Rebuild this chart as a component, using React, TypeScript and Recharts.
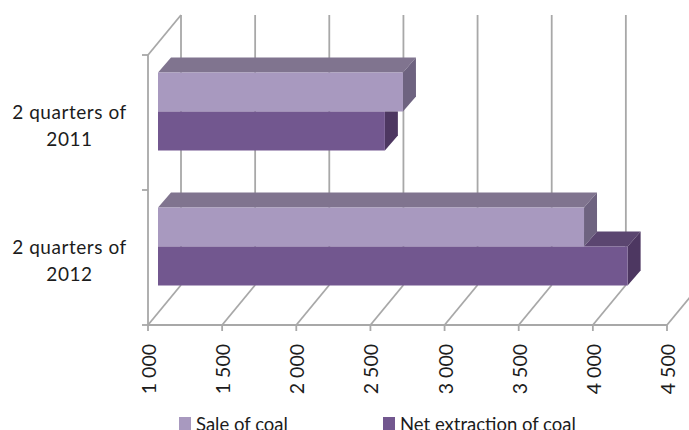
import React from "react";
import { BarChart, Bar, XAxis, YAxis, CartesianGrid, Legend } from "recharts";

const categories = ["2 quarters of 2011", "2 quarters of 2012"];
const saleOfCoal = [2652, 3873];
const netExtraction = [2530, 4167];
const valueTicks = [1000, 1500, 2000, 2500, 3000, 3500, 4000, 4500];

const data = categories.map((name, i) => ({
  name,
  sale: saleOfCoal[i],
  net: netExtraction[i],
}));

const FONT = "Lato, Carlito, sans-serif";
const TEXT = "#1c1c1c";
const AXIS = "#a8a8a8";

// depth of the fake 3D box around the plot, and of each bar
const WALL_DX = 33;
const WALL_DY = 40;
const BAR_DX = 13;
const BAR_DY = 15;
// bars sit a little inside the floor, not on the front edge
const BAR_SHIFT_X = 10;
const BAR_SHIFT_Y = -11.5;

const SALE = { front: "#a899bf", top: "#80748f", side: "#6e6380" };
const NET = { front: "#72578f", top: "#5b4670", side: "#4d3761" };

const pts = (list: number[][]) => list.map((p) => p.join(",")).join(" ");

function SaleBar(props: any) {
  const x = props.x + BAR_SHIFT_X;
  const y = props.y + BAR_SHIFT_Y;
  const { width: w, height: h } = props;
  return (
    <g>
      <polygon
        fill={SALE.top}
        points={pts([[x, y], [x + w, y], [x + w + BAR_DX, y - BAR_DY], [x + BAR_DX, y - BAR_DY]])}
      />
      <polygon
        fill={SALE.side}
        points={pts([[x + w, y], [x + w + BAR_DX, y - BAR_DY], [x + w + BAR_DX, y + h - BAR_DY], [x + w, y + h]])}
      />
      <rect x={x} y={y} width={w} height={h} fill={SALE.front} />
    </g>
  );
}

// The net bar is painted after the sale bar but sits behind it,
// so its top and side are cut back to the part the sale bar leaves open.
function NetBar(props: any) {
  const x = props.x + BAR_SHIFT_X;
  const y = props.y + BAR_SHIFT_Y;
  const { width: w, height: h, payload } = props;
  const pxPerUnit = w / (payload.net - valueTicks[0]);
  const saleW = (payload.sale - valueTicks[0]) * pxPerUnit;
  const passesSale = w > saleW;
  return (
    <g>
      {passesSale && (
        <polygon
          fill={NET.top}
          points={pts([[x + saleW, y], [x + w, y], [x + w + BAR_DX, y - BAR_DY], [x + saleW + BAR_DX, y - BAR_DY]])}
        />
      )}
      <polygon
        fill={NET.side}
        points={
          passesSale
            ? pts([[x + w, y], [x + w + BAR_DX, y - BAR_DY], [x + w + BAR_DX, y + h - BAR_DY], [x + w, y + h]])
            : pts([[x + w, y], [x + w + BAR_DX, y], [x + w + BAR_DX, y + h - BAR_DY], [x + w, y + h]])
        }
      />
      <rect x={x} y={y} width={w} height={h} fill={NET.front} />
    </g>
  );
}

// One grid entry is the floor diagonal plus the upright on the back wall.
// The first one also carries the slanted top of the side wall and the
// category separators, which fall between the bands rather than on them.
function WallLine(props: any) {
  const { x1, y1, y2, index } = props;
  const mid = (y1 + y2) / 2;
  return (
    <g stroke={AXIS} strokeWidth={1.8} fill="none">
      <line x1={x1} y1={y2} x2={x1 + WALL_DX} y2={y2 - WALL_DY} />
      <line x1={x1 + WALL_DX} y1={y2 - WALL_DY} x2={x1 + WALL_DX} y2={y1 - WALL_DY} />
      {index === 0 && (
        <>
          <line x1={x1} y1={y1} x2={x1 + WALL_DX} y2={y1 - WALL_DY} />
          {[y1, mid, y2].map((y) => (
            <line key={y} x1={x1 - 6} y1={y} x2={x1} y2={y} />
          ))}
        </>
      )}
    </g>
  );
}

function CategoryTick(props: any) {
  const { y, payload } = props;
  const words = String(payload.value).split(" ");
  const year = words.pop();
  return (
    <text x={69.5} y={y} textAnchor="middle" fontFamily={FONT} fontSize={19} letterSpacing={0.55} fill={TEXT}>
      <tspan x={69.5} dy={-4}>{words.join(" ")}</tspan>
      <tspan x={69.5} dy={27}>{year}</tspan>
    </text>
  );
}

function ValueTick(props: any) {
  const { x, y, payload } = props;
  const label = String(payload.value).replace(/(\d)(\d{3})$/, "$1 $2");
  return (
    <text
      transform={`translate(${x + 8},${y + 11}) rotate(-90)`}
      textAnchor="end"
      fontFamily={FONT}
      fontSize={19.5}
      fill={TEXT}
    >
      {label}
    </text>
  );
}

function LegendRow({ payload }: any) {
  const lefts = [179, 383];
  return (
    <div style={{ position: "relative", height: 20, fontFamily: FONT, fontSize: 18.5, color: TEXT }}>
      {(payload || []).map((item: any, i: number) => (
        <div key={item.value} style={{ position: "absolute", left: lefts[i], top: 7, whiteSpace: "nowrap" }}>
          <span
            style={{
              position: "absolute",
              left: 0,
              top: 0,
              width: 12,
              height: 13,
              background: item.color,
            }}
          />
          <span style={{ position: "absolute", left: 17, top: -3, lineHeight: "20px" }}>{item.value}</span>
        </div>
      ))}
    </div>
  );
}

export default function App() {
  return (
    <div style={{ position: "absolute", left: 0, top: 0, width: 689, height: 430, overflow: "hidden", background: "#fff" }}>
      <BarChart
        width={689}
        height={430}
        data={data}
        layout="vertical"
        barSize={39}
        barGap={0}
        margin={{ top: 55, right: 22, bottom: 0, left: 0 }}
      >
        <CartesianGrid horizontal={false} vertical={WallLine as any} />
        <XAxis
          type="number"
          domain={[valueTicks[0], valueTicks[valueTicks.length - 1]]}
          ticks={valueTicks}
          interval={0}
          height={85}
          tick={ValueTick as any}
          tickSize={6}
          stroke={AXIS}
          strokeWidth={1.8}
        />
        <YAxis
          type="category"
          dataKey="name"
          width={148}
          tick={CategoryTick as any}
          tickLine={false}
          stroke={AXIS}
          strokeWidth={1.8}
          interval={0}
        />
        <Legend
          height={20}
          verticalAlign="bottom"
          itemSorter={null as any}
          content={LegendRow as any}
          wrapperStyle={{ left: 0, width: 689 }}
        />
        <Bar dataKey="sale" name="Sale of coal" fill={SALE.front} shape={SaleBar as any} isAnimationActive={false} />
        <Bar dataKey="net" name="Net extraction of coal" fill={NET.front} shape={NetBar as any} isAnimationActive={false} />
      </BarChart>
    </div>
  );
}
